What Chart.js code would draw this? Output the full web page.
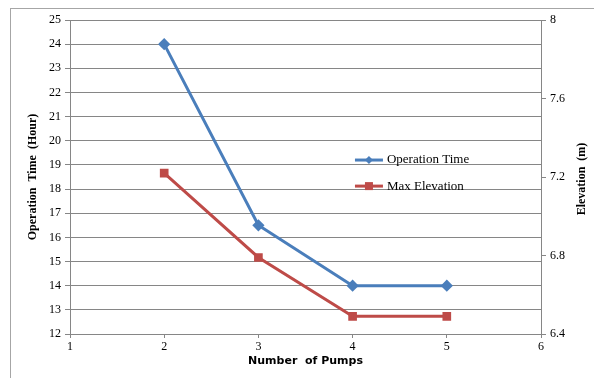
<!DOCTYPE html>
<html>
<head>
<meta charset="utf-8">
<script src="https://cdn.jsdelivr.net/npm/chart.js@4/dist/chart.umd.min.js"></script>
<style>
  html, body { margin: 0; padding: 0; background: #fff; }
  #wrap { position: relative; width: 594px; height: 378px; }
  #frame { position: absolute; left: 10px; top: 8px; width: 600px; height: 400px; border: 1px solid #a6a6a6; pointer-events: none; }
</style>
</head>
<body>
<div id="wrap">
  <canvas id="pumps_chart" width="594" height="378"></canvas>
  <div id="frame"></div>
</div>
<script>
// values
const pumps = [2, 3, 4, 5];
const operationTime = [24, 16.5, 14, 14];
const maxElevation = [7.22, 6.79, 6.49, 6.49];

const blue = '#4a7ebb';
const red = '#be4b48';
const serif = "'Liberation Serif', 'Times New Roman', serif";

// legend sits inside the plot, drawn by hand; right axis title reads bottom-to-top
const insideLegend = {
    id: 'insideLegend',
    afterDraw(chart) {
        const c = chart.ctx;
        const a = chart.chartArea;
        const x0 = a.left + 0.605 * (a.right - a.left);
        const ys = [0.446, 0.529];
        chart.data.datasets.forEach(function (ds, i) {
            const y = a.top + ys[i] * (a.bottom - a.top);
            c.save();
            c.strokeStyle = ds.borderColor;
            c.lineWidth = 3;
            c.beginPath();
            c.moveTo(x0, y);
            c.lineTo(x0 + 28, y);
            c.stroke();
            c.fillStyle = ds.borderColor;
            if (ds.pointStyle === 'rectRot') {
                c.beginPath();
                c.moveTo(x0 + 14, y - 4);
                c.lineTo(x0 + 18, y);
                c.lineTo(x0 + 14, y + 4);
                c.lineTo(x0 + 10, y);
                c.closePath();
                c.fill();
            } else {
                c.fillRect(x0 + 10, y - 4, 8, 8);
            }
            c.fillStyle = '#000';
            c.font = "13px " + serif;
            c.textBaseline = 'middle';
            c.fillText(ds.label, x0 + 32, y);
            c.restore();
        });

        c.save();
        c.translate(582, (a.top + a.bottom) / 2 + 2);
        c.rotate(-Math.PI / 2);
        c.fillStyle = '#000';
        c.font = "bold 12px " + serif;
        c.textAlign = 'center';
        c.textBaseline = 'middle';
        c.fillText('Elevation  (m)', 0, 0);
        c.restore();
    }
};

let ctx = document.getElementById('pumps_chart').getContext('2d');
const pumpChart = new Chart(ctx, {
    type: 'line',
    data: {
        datasets: [{
            label: 'Operation Time',
            data: pumps.map(function (p, i) { return { x: p, y: operationTime[i] }; }),
            yAxisID: 'y',
            borderColor: blue,
            backgroundColor: blue,
            borderWidth: 3,
            pointStyle: 'rectRot',
            pointRadius: 4,
            tension: 0
        }, {
            label: 'Max Elevation',
            data: pumps.map(function (p, i) { return { x: p, y: maxElevation[i] }; }),
            yAxisID: 'y1',
            borderColor: red,
            backgroundColor: red,
            borderWidth: 3,
            pointStyle: 'rect',
            pointRadius: 4,
            tension: 0
        }]
    },
    options: {
        responsive: false,
        animation: false,
        layout: { padding: { left: 14, right: 4, top: 20, bottom: 6 } },
        plugins: {
            legend: { display: false },
            tooltip: { enabled: false }
        },
        scales: {
            x: {
                type: 'linear',
                min: 1,
                max: 6,
                afterFit: function (s) { s.height = 38; },
                ticks: { stepSize: 1, color: '#000', font: { family: serif, size: 12 }, padding: 2 },
                grid: { drawOnChartArea: false, tickLength: 4, color: '#868686' },
                border: { color: '#868686' },
                title: {
                    display: true,
                    text: 'Number  of Pumps',
                    color: '#000',
                    font: { family: "'DejaVu Sans', sans-serif", size: 11, weight: 'bold' },
                    padding: { top: 6 }
                }
            },
            y: {
                position: 'left',
                min: 12,
                max: 25,
                afterFit: function (s) { s.width = 56; },
                ticks: { stepSize: 1, color: '#000', font: { family: serif, size: 12 }, padding: 4 },
                grid: { color: '#868686', tickLength: 5 },
                border: { color: '#868686' },
                title: {
                    display: true,
                    text: 'Operation  Time  (Hour)',
                    color: '#000',
                    font: { family: serif, size: 12, weight: 'bold' },
                    padding: { top: 12, bottom: 0 }
                }
            },
            y1: {
                position: 'right',
                min: 6.4,
                max: 8,
                afterFit: function (s) { s.width = 49; },
                ticks: {
                    stepSize: 0.4,
                    color: '#000',
                    font: { family: serif, size: 12 },
                    padding: 4,
                    callback: function (v) { return Number(v.toFixed(1)).toString(); }
                },
                grid: { drawOnChartArea: false, color: '#868686', tickLength: 5 },
                border: { color: '#868686' }
            }
        }
    },
    plugins: [insideLegend]
});
</script>
</body>
</html>
